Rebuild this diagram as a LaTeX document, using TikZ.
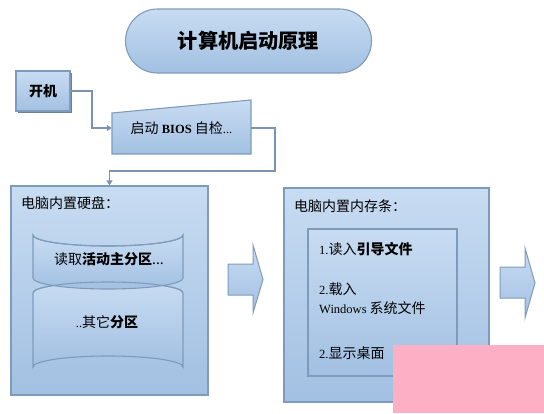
\documentclass[tikz,border=0pt]{standalone}
\usepackage{fontspec}
\setmainfont{Liberation Serif}
\newfontfamily\cjk[Scale=1.12]{Noto Sans CJK SC}
\usetikzlibrary{arrows.meta,calc}
\definecolor{bordc}{HTML}{7F9BBB}
\definecolor{linec}{HTML}{7A93B0}
\definecolor{topc}{HTML}{C8DCF2}
\definecolor{botc}{HTML}{A2C0E2}
\definecolor{shadc}{HTML}{6A8099}
\definecolor{pinkc}{HTML}{FDB0C5}
\tikzset{
  blue box/.style={draw=bordc, line width=1.1pt, top color=topc, bottom color=botc, inner sep=0pt},
  conn/.style={draw=linec, line width=1.6pt, -{Triangle[length=5pt,width=6pt]}},
  txt/.style={inner sep=0pt, font=\fontsize{12.5}{15}\selectfont, text=black},
}
\begin{document}
\begin{tikzpicture}[x=1pt,y=-1pt]
\useasboundingbox (0,0) rectangle (544,413);
\fill[white] (0,0) rectangle (544,413);

% title
\node[blue box, rounded corners=32pt, minimum width=246pt, minimum height=64pt] (title) at (248.5,41) {};
\node[txt, font=\fontsize{18}{22}\selectfont\cjk\bfseries] at (title) {计算机启动原理};

% power on
\fill[shadc] (17.5,72.5) rectangle (71.5,112.5);
\node[blue box, minimum width=54pt, minimum height=40pt, font=\fontsize{12.5}{15}\selectfont\cjk\bfseries] (kaiji) at (43,91) {开机};

% BIOS trapezoid
\path[blue box] (112,113) -- (251,100) -- (251,154) -- (112,154) -- cycle;
\node[txt, minimum width=139pt] (bios) at (181.5,128) {{\cjk 启动} \textbf{BIOS} {\cjk 自检}...};

% hard disk box
\node[blue box, minimum width=197pt, minimum height=209pt] (disk) at (109.5,290.5) {};
\node[txt, anchor=west] (disklbl) at (21,203) {\cjk 电脑内置硬盘：};

% cylinders
\path[blue box] (33,293) arc[start angle=180, end angle=360, x radius=75pt, y radius=-11pt] -- (183,367)
   arc[start angle=0, end angle=-180, x radius=75pt, y radius=-11pt] -- cycle;
\path[blue box] (33,235) -- (33,278) arc[start angle=180, end angle=360, x radius=75pt, y radius=11pt] -- (183,235)
   arc[start angle=0, end angle=-180, x radius=75pt, y radius=11pt] -- cycle;
\draw[bordc, line width=1.1pt] (33,235) arc[start angle=180, end angle=360, x radius=75pt, y radius=11pt];
\draw[bordc, line width=1.1pt] (33,293) arc[start angle=180, end angle=360, x radius=75pt, y radius=-11pt];
\node[txt] (part1) at (109,259) {\cjk 读取\textbf{活动主分区}...};
\node[txt] (part2) at (107,322) {..{\cjk 其它\textbf{分区}}};

% memory box
\node[blue box, minimum width=205pt, minimum height=214pt] (mem) at (386.5,295) {};
\node[txt, anchor=west] (memlbl) at (294,206) {\cjk 电脑内置内存条：};
\node[blue box, minimum width=149pt, minimum height=147pt] (inner) at (382.5,302.5) {};
\node[txt, anchor=west] (s1) at (319,249) {1.{\cjk 读入\textbf{引导文件}}};
\node[txt, anchor=west] (s2) at (319,289) {2.{\cjk 载入}};
\node[txt, anchor=west] (s3) at (319,308) {Windows {\cjk 系统文件}};
\node[txt, anchor=west] (s4) at (319,353) {2.{\cjk 显示桌面}};

% block arrows
\path[blue box, line width=1pt] (228,264) -- (253,264) -- (253,245) -- (263,279.5) -- (253,313) -- (253,295) -- (228,295) -- cycle;
\path[blue box, line width=1pt] (500,267) -- (525,267) -- (525,248) -- (535,283) -- (525,318) -- (525,298) -- (500,298) -- cycle;

% connectors
\coordinate (k1) at (92,91);
\draw[conn] (kaiji.east) -- (k1) |- (bios.west);
\coordinate (b1) at (275,171);
\draw[conn] (bios.east) -| (b1) -| (disk.north);

% overlay
\fill[pinkc] (393,345) rectangle (544,413);
\end{tikzpicture}
\end{document}
